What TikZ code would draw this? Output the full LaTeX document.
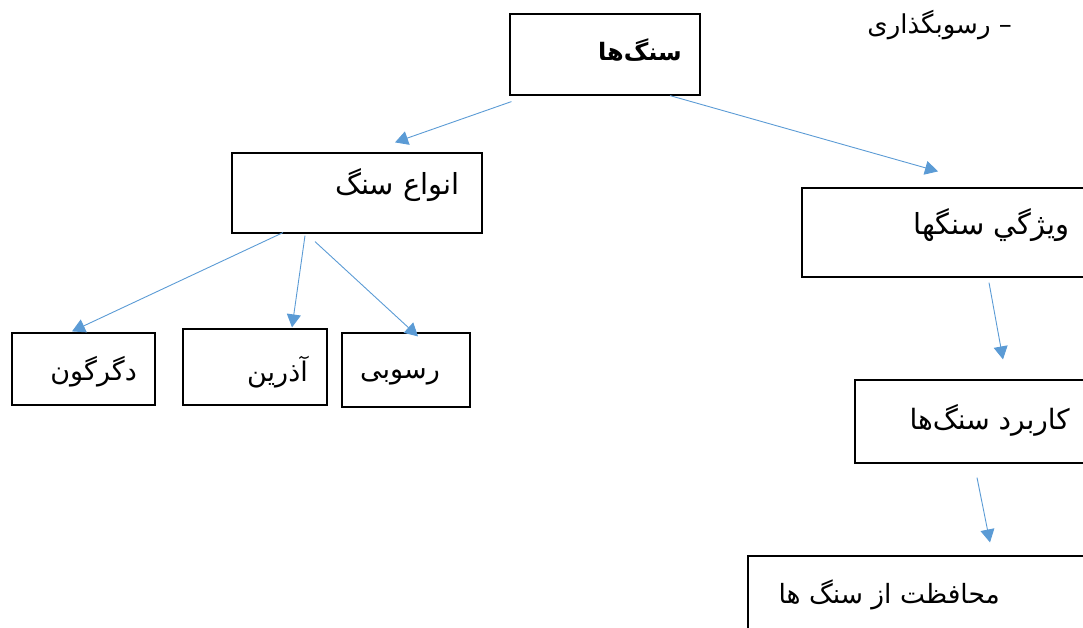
\documentclass[tikz,border=0pt]{standalone}
\usepackage{fontspec}
\usepackage{tikz}
\usetikzlibrary{arrows.meta}
\TeXXeTstate=1
\newfontfamily\farsi[Script=Arabic]{DejaVu Sans}
\newcommand{\fsz}[1]{\fontsize{#1}{#1}\selectfont}
\definecolor{arrowblue}{HTML}{5B9BD5}
\tikzset{
  box/.style={draw=black, line width=1.2pt, rectangle, inner sep=0pt},
  label text/.style={anchor=east, inner sep=0pt, font=\farsi\fsz{27}},
  link/.style={draw=arrowblue, line width=0.9pt, -{Triangle[length=13pt,width=14pt]}}
}

\begin{document}
\begin{tikzpicture}[x=1pt,y=-1pt]
      \useasboundingbox (0,0) rectangle (1083,627);
      \clip (0,0) rectangle (1083,627);
      % boxes
      \node[box, minimum width=190pt, minimum height=81pt] (stones) at (605,54.5) {};
      \node[box, minimum width=250pt, minimum height=80pt] (types) at (357,193) {};
      \node[box, minimum width=298pt, minimum height=89pt] (props) at (951,232.5) {};
      \node[box, minimum width=143pt, minimum height=72pt] (meta) at (83.5,369) {};
      \node[box, minimum width=144pt, minimum height=76pt] (igneous) at (255,367) {};
      \node[box, minimum width=128pt, minimum height=74pt] (sedim) at (406,370) {};
      \node[box, minimum width=245pt, minimum height=83pt] (uses) at (977.5,421.5) {};
      \node[box, minimum width=352pt, minimum height=94pt] (protect) at (924,603) {};
      % texts
      \node[label text, font=\farsi\fsz{26}] (sedimt) at (1012,25) {\beginR – رسوبگذاری\endR};
      \node[label text, font=\farsi\bfseries\fsz{24}] (stonest) at (682,50) {\beginR سنگ‌ها\endR};
      \node[label text, font=\farsi\fsz{29}] (typest) at (460,185) {\beginR انواع سنگ\endR};
      \node[label text, font=\farsi\fsz{29}] (propst) at (1070,225) {\beginR ويژگي سنگها\endR};
      \node[label text] (metat) at (137,372) {\beginR دگرگون\endR};
      \node[label text] (igneoust) at (308,372) {\beginR آذرین\endR};
      \node[label text] (sedimbt) at (440,377) {\beginR رسوبی\endR};
      \node[label text, font=\farsi\fsz{28}] (usest) at (1070,420) {\beginR کاربرد سنگ‌ها\endR};
      \node[label text, font=\farsi\fsz{26.5}] (protectt) at (1000,595) {\beginR محافظت از سنگ ها\endR};
      % arrows
      \draw[link] ([xshift=2pt,yshift=-6pt]stones.south west) -- ([xshift=38pt,yshift=10pt]types.north);
      \draw[link] ([xshift=65pt]stones.south) -- ([xshift=-13pt,yshift=16pt]props.north);
      \draw[link] ([xshift=-74pt,yshift=1pt]types.south) -- ([xshift=-11.5pt,yshift=1pt]meta.north);
      \draw[link] ([xshift=-52pt,yshift=-2pt]types.south) -- ([xshift=37pt,yshift=1pt]igneous.north);
      \draw[link] ([xshift=-42pt,yshift=-8pt]types.south) -- ([xshift=12pt,yshift=-4pt]sedim.north);
      \draw[link] ([xshift=38pt,yshift=-5pt]props.south) -- ([xshift=25.5pt,yshift=20pt]uses.north);
      \draw[link] ([xshift=-0.5pt,yshift=-14pt]uses.south) -- ([xshift=66pt,yshift=13pt]protect.north);
\end{tikzpicture}
\end{document}
